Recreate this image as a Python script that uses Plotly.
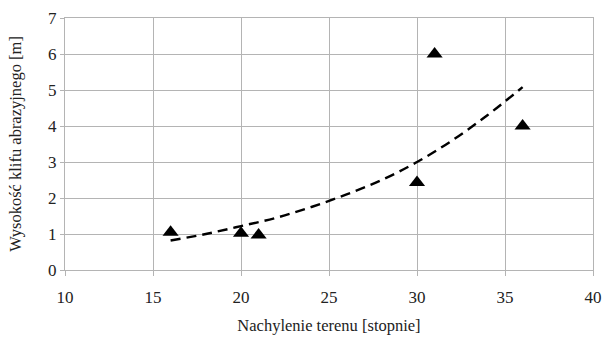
import plotly.graph_objects as go

# measured points
slope_deg = [16, 20, 21, 30, 31, 36]
cliff_h = [1.05, 1.02, 0.97, 2.43, 6.0, 4.0]

# trend line
trend_x = [16, 18, 20, 22, 24, 26, 28, 30, 32, 34, 36]
trend_y = [0.82, 1.0, 1.22, 1.45, 1.75, 2.1, 2.5, 3.0, 3.6, 4.3, 5.08]

x_ticks = [10, 15, 20, 25, 30, 35, 40]
y_ticks = [0, 1, 2, 3, 4, 5, 6, 7]

fig = go.Figure()
fig.add_trace(go.Scatter(x=trend_x, y=trend_y, mode="lines",
                         line=dict(color="black", width=2.4, dash="10px,6px", shape="spline"),
                         showlegend=False, hoverinfo="skip"))
fig.add_trace(go.Scatter(x=slope_deg, y=cliff_h, mode="markers",
                         marker=dict(symbol="triangle-up", size=14, color="black"),
                         showlegend=False))

font = "Liberation Serif"
fig.update_layout(
    width=605, height=339,
    margin=dict(l=65, r=12, t=18, b=69, autoexpand=False),
    paper_bgcolor="white", plot_bgcolor="white",
    font=dict(family=font, color="#222", size=17),
    xaxis=dict(range=[10, 40], tickvals=x_ticks, showgrid=True, gridcolor="#b4b4b4",
               gridwidth=1, zeroline=False, showline=True, linecolor="#b4b4b4", mirror=True,
               ticks="outside", ticklen=5, tickcolor="#b4b4b4", automargin=False,
               ticklabelstandoff=7,
               title=dict(text="Nachylenie terenu [stopnie]", font=dict(size=16.5, family=font), standoff=13),
               tickfont=dict(size=17, family=font)),
    yaxis=dict(range=[0, 7], tickvals=y_ticks, showgrid=True, gridcolor="#b4b4b4",
               gridwidth=1, zeroline=False, showline=True, linecolor="#b4b4b4", mirror=True,
               ticks="outside", ticklen=4, tickcolor="#b4b4b4", automargin=False,
               title=dict(text="Wysokość klifu abrazyjnego [m]", font=dict(size=16.5, family=font), standoff=22),
               tickfont=dict(size=17, family=font)),
)
fig.write_html("out.html", config={"displayModeBar": False},
               post_script="document.body.style.margin='0';document.body.style.overflow='hidden';")
